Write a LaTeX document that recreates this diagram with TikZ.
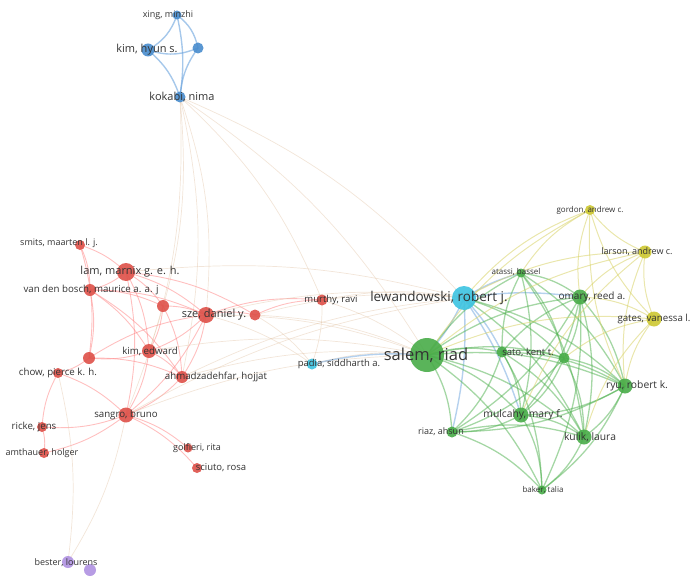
\documentclass[tikz,border=0pt]{standalone}
\usepackage{fontspec}
\setmainfont{Open Sans}
\begin{document}
\begin{tikzpicture}[x=1pt,y=-1pt,
 dot/.style={circle,inner sep=0pt,minimum size=#1},
 lbl/.style={text=black!80,font=\fontsize{9}{10}\selectfont,inner sep=0pt},
 big/.style={text=black!80,font=\fontsize{11}{12}\selectfont,inner sep=0pt},
 eR/.style={draw=red!50!white,opacity=0.5,line width=0.9pt},
 eG/.style={draw=green!55!black!70!white,opacity=0.5,line width=1.3pt},
 eB/.style={draw=cyan!60!blue!60!white,opacity=0.6,line width=1.4pt},
 eY/.style={draw=yellow!75!black!70!white,opacity=0.55,line width=1pt},
 eX/.style={draw=brown!50!white,opacity=0.4,line width=0.7pt}]
\definecolor{cR}{RGB}{222,80,72}
\definecolor{cG}{RGB}{72,172,72}
\definecolor{cB}{RGB}{72,140,205}
\definecolor{cC}{RGB}{60,195,225}
\definecolor{cY}{RGB}{205,200,50}
\definecolor{cP}{RGB}{175,145,225}
\useasboundingbox (0,0) rectangle (700,580);
\foreach \n/\x/\y in {xing/177/15,kimh/148/50,bl3/198/48,koka/180/97,
 smits/80/245,lam/126/272,vdb/90/290,r4/163/306,sze/206/315,r6/255/315,murthy/322/300,
 kime/149/351,r9/89/358,chow/58/373,ahm/182/377,sangro/126/415,ricke/42/427,amth/44/453,golf/188/448,sci/197/468,
 padia/312/364,lew/464/298,salem/427/355,sato/502/352,atassi/521/273,omary/580/297,g7/564/358,ryu/625/386,mulc/521/415,riaz/452/432,kulik/584/437,baker/542/490,
 gordon/590/210,larson/645/252,gates/654/319,bester/68/562,p2/90/570}
 \coordinate (\n) at (\x,\y);
\foreach \a/\b/\s in {xing/kimh/20,xing/bl3/20,kimh/bl3/-20,kimh/koka/15,bl3/koka/-15,xing/koka/10}
 \draw[eB] (\a) to[bend left=\s] (\b);
\foreach \a/\b in {koka/sze,koka/murthy,koka/sangro,koka/salem,koka/lew,koka/ahm,koka/kime}
 \draw[eX] (\a) to[bend left=12] (\b);
\foreach \a/\b in {smits/lam,smits/vdb,lam/vdb,lam/r4,lam/sze,vdb/sze,vdb/r4,r4/sze,sze/r6,r6/murthy,sze/kime,sze/ahm,kime/r9,kime/ahm,vdb/r9,r9/chow,chow/sangro,kime/sangro,ahm/sangro,sangro/ricke,ricke/amth,sangro/amth,sangro/golf,sangro/sci,lam/kime,vdb/ahm,r4/ahm,r9/sze,sze/sangro,smits/r9,lam/sangro,ricke/chow,sze/murthy,lam/r6,vdb/kime,r9/ahm,r4/kime}
 \draw[eR] (\a) to[bend left=12] (\b);
\foreach \a/\b in {murthy/salem,r6/salem,sze/salem,sze/lew,sangro/salem,sangro/lew,ahm/salem,kime/salem,sangro/bester,chow/bester,murthy/lew,padia/salem,sze/padia,lam/lew,r6/padia,ahm/lew,r6/lew,murthy/padia}
 \draw[eX] (\a) to[bend left=10] (\b);
\foreach \a/\b in {lew/salem,lew/atassi,lew/omary,lew/sato,lew/mulc,lew/riaz,padia/salem}
 \draw[eB,opacity=0.5] (\a) to[bend left=8] (\b);
\foreach \a/\b in {salem/sato,salem/atassi,salem/omary,salem/g7,salem/ryu,salem/mulc,salem/riaz,salem/kulik,salem/baker,sato/omary,sato/mulc,sato/kulik,sato/ryu,sato/atassi,atassi/omary,atassi/mulc,omary/g7,omary/ryu,omary/mulc,omary/kulik,omary/riaz,g7/ryu,g7/mulc,g7/kulik,ryu/mulc,ryu/kulik,mulc/kulik,mulc/riaz,mulc/baker,kulik/baker,riaz/baker,riaz/kulik,ryu/baker,atassi/ryu,g7/riaz,omary/baker,atassi/kulik,sato/g7,lew/ryu,lew/kulik,lew/g7,ryu/riaz,sato/riaz,sato/baker,atassi/g7}
 \draw[eG] (\a) to[bend left=14] (\b);
\foreach \a/\b in {gordon/larson,gordon/gates,larson/gates,gordon/omary,gordon/salem,gordon/lew,gordon/ryu,larson/omary,larson/salem,larson/ryu,gates/omary,gates/salem,gates/ryu,gates/g7,larson/lew,gordon/atassi,gates/kulik,larson/mulc}
 \draw[eY] (\a) to[bend right=14] (\b);
\foreach \n/\c/\d in {xing/cB/9,kimh/cB/13,bl3/cB/11,koka/cB/11,
 smits/cR/10,lam/cR/18,vdb/cR/12,r4/cR/12,sze/cR/16,r6/cR/11,murthy/cR/11,kime/cR/14,r9/cR/12,chow/cR/10,ahm/cR/12,sangro/cR/15,ricke/cR/10,amth/cR/10,golf/cR/9,sci/cR/10,
 padia/cC/11,lew/cC/24,salem/cG/34,sato/cG/11,atassi/cG/9,omary/cG/15,g7/cG/11,ryu/cG/15,mulc/cG/15,riaz/cG/11,kulik/cG/15,baker/cG/9,
 gordon/cY/10,larson/cY/13,gates/cY/15,bester/cP/12,p2/cP/12}
 \node[dot=\d pt,fill=\c,opacity=0.9] (d\n) at (\n) {};
\node[lbl] (Lxing) at (168,15) {xing, minzhi};
\node[big] (Lkimh) at (147,50) {kim, hyun s.};
\node[big] (Lkoka) at (182,97) {kokabi, nima};
\node[lbl] (Lsmits) at (59,243) {smits, maarten l. j.};
\node[big] (Llam) at (130,272) {lam, marnix g. e. h.};
\node[lbl,font=\fontsize{9.7}{10}\selectfont] (Lvdb) at (91,290) {van den bosch, maurice a. a. j};
\node[big] (Lsze) at (214,315) {sze, daniel y.};
\node[lbl,font=\fontsize{9.5}{10}\selectfont] (Lmurthy) at (331,300) {murthy, ravi};
\node[lbl,font=\fontsize{9.7}{10}\selectfont] (Lkime) at (150,351) {kim, edward};
\node[lbl,font=\fontsize{9.7}{10}\selectfont] (Lchow) at (58,373) {chow, pierce k. h.};
\node[lbl,font=\fontsize{9.7}{10}\selectfont] (Lahm) at (216,377) {ahmadzadehfar, hojjat};
\node[lbl,font=\fontsize{9.7}{10}\selectfont] (Lsangro) at (126,415) {sangro, bruno};
\node[lbl,font=\fontsize{9.7}{10}\selectfont] (Lricke) at (34,427) {ricke, jens};
\node[lbl] (Lamth) at (42,453) {amthauer, holger};
\node[lbl] (Lgolf) at (197,448) {golfieri, rita};
\node[lbl,font=\fontsize{9.5}{10}\selectfont] (Lsci) at (221,468) {sciuto, rosa};
\node[lbl,font=\fontsize{9.5}{10}\selectfont] (Lpadia) at (339,364) {padia, siddharth a.};
\node[big,font=\fontsize{13.5}{14}\selectfont] (Llew) at (439,298) {lewandowski, robert j.};
\node[big,font=\fontsize{16.5}{17}\selectfont] (Lsalem) at (426,355) {salem, riad};
\node[lbl,font=\fontsize{9.5}{10}\selectfont] (Lsato) at (528,352) {sato, kent t.};
\node[lbl,font=\fontsize{8}{9}\selectfont] (Latassi) at (516,272) {atassi, bassel};
\node[lbl,font=\fontsize{10}{11}\selectfont] (Lomary) at (592,297) {omary, reed a.};
\node[lbl,font=\fontsize{10.3}{11}\selectfont] (Lryu) at (637,386) {ryu, robert k.};
\node[lbl,font=\fontsize{10.3}{11}\selectfont] (Lmulc) at (523,415) {mulcahy, mary f.};
\node[lbl] (Lriaz) at (441,432) {riaz, ahsun};
\node[lbl,font=\fontsize{10.3}{11}\selectfont] (Lkulik) at (590,437) {kulik, laura};
\node[lbl,font=\fontsize{8}{9}\selectfont] (Lbaker) at (543,490) {baker, talia};
\node[lbl,font=\fontsize{8}{9}\selectfont] (Lgordon) at (590,210) {gordon, andrew c.};
\node[lbl,font=\fontsize{9}{10}\selectfont] (Llarson) at (637,252) {larson, andrew c.};
\node[lbl,font=\fontsize{9.7}{10}\selectfont] (Lgates) at (654,319) {gates, vanessa l.};
\node[lbl] (Lbester) at (66,563) {bester, lourens};
\end{tikzpicture}
\end{document}
